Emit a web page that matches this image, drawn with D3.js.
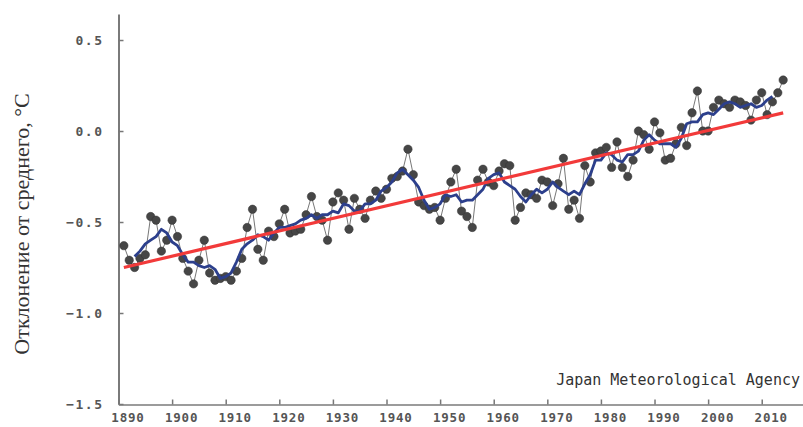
<!DOCTYPE html>
<html><head><meta charset="utf-8">
<script src="https://cdn.jsdelivr.net/npm/d3@7"></script>
<style>body{margin:0;background:#fff}svg{display:block}</style>
</head><body>
<svg id="c" width="803" height="427"></svg>
<script>
const startYear = 1891;
const annual = [
-0.63,-0.71,-0.75,-0.70,-0.68,-0.47,-0.49,-0.66,-0.60,-0.49,
-0.58,-0.70,-0.77,-0.84,-0.71,-0.60,-0.78,-0.82,-0.81,-0.80,
-0.82,-0.77,-0.70,-0.53,-0.43,-0.65,-0.71,-0.55,-0.58,-0.51,
-0.43,-0.56,-0.55,-0.54,-0.46,-0.36,-0.47,-0.49,-0.60,-0.39,
-0.34,-0.38,-0.54,-0.37,-0.43,-0.48,-0.38,-0.33,-0.37,-0.32,
-0.26,-0.25,-0.22,-0.10,-0.24,-0.39,-0.41,-0.43,-0.42,-0.49,
-0.37,-0.28,-0.21,-0.44,-0.47,-0.53,-0.27,-0.21,-0.28,-0.30,
-0.22,-0.18,-0.19,-0.49,-0.42,-0.34,-0.35,-0.37,-0.27,-0.28,
-0.41,-0.29,-0.15,-0.43,-0.38,-0.48,-0.19,-0.28,-0.12,-0.11,
-0.09,-0.20,-0.06,-0.20,-0.25,-0.16,0.00,-0.02,-0.10,0.05,
-0.01,-0.16,-0.15,-0.07,0.02,-0.08,0.10,0.22,0.00,0.00,
0.13,0.17,0.15,0.13,0.17,0.16,0.14,0.06,0.17,0.21,
0.09,0.16,0.21,0.28
];
const smoothStart = 1893;
const smooth = [
-0.69,-0.66,-0.62,-0.60,-0.58,-0.54,-0.56,-0.61,-0.63,-0.68,
-0.72,-0.72,-0.74,-0.75,-0.74,-0.76,-0.81,-0.80,-0.78,-0.72,
-0.65,-0.62,-0.60,-0.57,-0.58,-0.60,-0.56,-0.53,-0.53,-0.52,
-0.51,-0.49,-0.48,-0.46,-0.48,-0.46,-0.46,-0.44,-0.45,-0.40,
-0.41,-0.44,-0.44,-0.40,-0.40,-0.38,-0.33,-0.31,-0.28,-0.23,
-0.21,-0.24,-0.27,-0.31,-0.38,-0.43,-0.42,-0.40,-0.35,-0.36,
-0.35,-0.39,-0.38,-0.38,-0.35,-0.32,-0.26,-0.24,-0.23,-0.28,
-0.30,-0.32,-0.36,-0.39,-0.35,-0.32,-0.34,-0.32,-0.28,-0.31,
-0.33,-0.35,-0.33,-0.35,-0.29,-0.24,-0.16,-0.16,-0.12,-0.13,
-0.16,-0.17,-0.13,-0.13,-0.11,-0.05,-0.02,-0.05,-0.07,-0.07,
-0.07,-0.09,-0.04,0.04,0.05,0.05,0.09,0.10,0.09,0.12,
0.15,0.16,0.15,0.13,0.14,0.15,0.13,0.14,0.17,0.19
];
const trendYears = [1891, 2014];
const trendValues = [-0.75, 0.10];
const yTicks = [0.5, 0.0, -0.5, -1.0, -1.5];
const xTicks = [1890,1900,1910,1920,1930,1940,1950,1960,1970,1980,1990,2000,2010];
const yTitle = "Отклонение от среднего, °C";
const credit = "Japan Meteorological Agency";

const svg = d3.select("#c");
const x = d3.scaleLinear().domain([1890, 2017.7]).range([118.5, 803]);
const y = d3.scaleLinear().domain([-1.5, 0.643]).range([404, 14]);

const pts = annual.map((v,i)=>({yr:startYear+i, v}));
const sm = smooth.map((v,i)=>({yr:smoothStart+i, v}));
const tr = trendYears.map((yr,i)=>({yr, v:trendValues[i]}));

// axes
const yAxis = d3.axisLeft(y).tickValues(yTicks).tickSizeInner(-5).tickSizeOuter(0)
  .tickFormat(d3.format(".1f")).tickPadding(14);
const gy = svg.append("g").attr("transform","translate(118.5,0)").call(yAxis);
gy.select(".domain").attr("stroke","#7a7a7a").attr("stroke-width",2);
gy.selectAll(".tick line").attr("stroke","#777").attr("stroke-width",1.5);
gy.selectAll(".tick text").attr("font-family","DejaVu Sans Mono").attr("font-weight","bold")
  .attr("font-size",13).attr("fill","#555").attr("letter-spacing","1.5px").attr("dx","-1");

const xAxis = d3.axisBottom(x).tickValues(xTicks).tickSizeInner(-5).tickSizeOuter(0)
  .tickFormat(d3.format("d")).tickPadding(9);
const gx = svg.append("g").attr("transform","translate(0,404.5)").call(xAxis);
gx.select(".domain").attr("stroke","#7a7a7a").attr("stroke-width",1.6);
gx.selectAll(".tick line").attr("stroke","#777").attr("stroke-width",1.5);
gx.selectAll(".tick text").attr("font-family","DejaVu Sans Mono").attr("font-weight","bold")
  .attr("font-size",12.5).attr("fill","#555").attr("letter-spacing","0.8px").attr("dx","9");

// y title
svg.append("text").attr("transform","translate(29,224) rotate(-90)")
  .attr("text-anchor","middle").attr("font-family","Liberation Serif")
  .attr("font-size",22).attr("fill","#333").text(yTitle);

// credit
svg.append("text").attr("x",800).attr("y",385).attr("text-anchor","end")
  .attr("font-family","DejaVu Sans Mono").attr("font-size",15).attr("fill","#333")
  .text(credit);

// thin annual line
svg.append("path").datum(pts)
  .attr("d", d3.line().x(d=>x(d.yr)).y(d=>y(d.v)))
  .attr("fill","none").attr("stroke","#777").attr("stroke-width",1);

// dots
svg.append("g").selectAll("circle").data(pts).join("circle")
  .attr("cx",d=>x(d.yr)).attr("cy",d=>y(d.v)).attr("r",4.2)
  .attr("fill","#464646").attr("stroke","#333").attr("stroke-width",0.5);

// 5-year mean
svg.append("path").datum(sm)
  .attr("d", d3.line().x(d=>x(d.yr)).y(d=>y(d.v)))
  .attr("fill","none").attr("stroke","#2c3f8c").attr("stroke-width",2.8)
  .attr("stroke-linejoin","round");

// trend
svg.append("path").datum(tr)
  .attr("d", d3.line().x(d=>x(d.yr)).y(d=>y(d.v)))
  .attr("fill","none").attr("stroke","#f23a3a").attr("stroke-width",3.2);
</script>
</body></html>
